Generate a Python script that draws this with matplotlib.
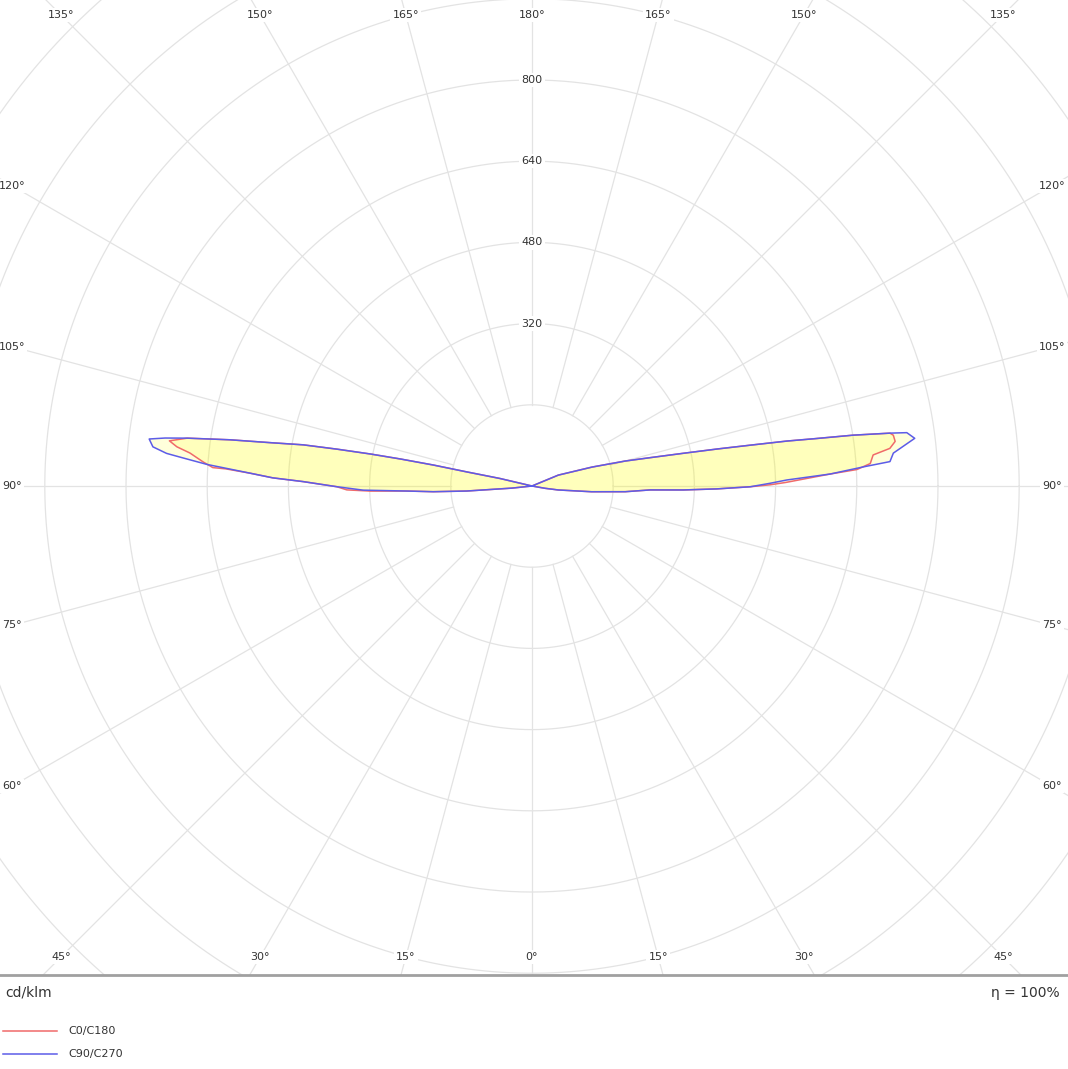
import numpy as np
import matplotlib
matplotlib.use('Agg')
import matplotlib.pyplot as plt
from matplotlib.lines import Line2D

# %%
# Luminous intensity (cd/klm), gamma in degrees (0 = down)
upper_right_g = [99.0, 99.5, 100.0, 100.6, 101.3, 102.2, 103.5, 105.0, 107.5, 112.5, 120, 180]
upper_right_i = [640, 565, 510, 437, 372, 305, 239, 190, 124, 56, 0, 0]

c0_g = [0, 75, 80, 81.4, 84.5, 86.5, 88.1, 88.5, 89.1, 89.8, 90.3, 90.8, 92.3, 92.9,
        93.8, 95.2, 96.0, 97.0, 98.0, 98.4] + upper_right_g
c0_i = [0, 0, 26, 52, 118, 184, 233, 298, 364, 430, 470, 500, 588, 641,
        668, 675, 709, 721, 719, 713] + upper_right_i

c90_g = [0, 75, 80, 81.4, 84.5, 86.5, 88.1, 88.5, 89.1, 89.8, 90.65, 91.35, 92.3, 93.3,
         93.9, 95.2, 97.1, 98.1, 98.4] + upper_right_g
c90_i = [0, 0, 26, 52, 118, 184, 233, 298, 364, 430, 469, 502, 588, 654,
         707, 715, 760, 746, 713] + upper_right_i

upper_left_g = [98.7, 99.4, 100.2, 100.7, 101.2, 101.6, 102.0, 102.2, 103.2, 110, 180]
upper_left_i = [602, 523, 458, 391, 325, 265, 199, 131, 65, 0, 0]

c180_g = [0, 75, 84, 85.6, 86.7, 87.7, 88.2, 88.8, 89.8, 91.1, 91.8, 92.6, 93.2, 93.3,
          94.2, 95.5, 96.3, 97.1, 97.9] + upper_left_g
c180_i = [0, 0, 40, 129, 195, 247, 319, 365, 385, 451, 511, 556, 604, 630,
          650, 677, 704, 720, 686] + upper_left_i

c270_g = [0, 75, 84, 85.6, 86.7, 87.7, 88.6, 89.8, 91.1, 91.8, 92.6, 93.3, 93.8, 94.6,
          95.1, 95.9, 97.0, 97.45, 97.9] + upper_left_g
c270_i = [0, 0, 40, 129, 195, 247, 333, 385, 451, 511, 556, 603, 642, 690,
          723, 751, 760, 729, 686] + upper_left_i

ring_labels = [320, 480, 640, 800]
rings = [160 * k for k in range(1, 10)]
angle_ticks = list(range(0, 181, 15))

# %%
def to_xy(g, i, side):
    g = np.radians(np.array(g, dtype=float))
    i = np.array(i, dtype=float)
    return side * i * np.sin(g), -i * np.cos(g)

fig = plt.figure(figsize=(10.68, 10.69), dpi=100)
ax = fig.add_axes([0, 1 - 975 / 1069, 1, 975 / 1069])
ax.set_xlim(-1048.3, 1056.2)
ax.set_ylim(-963.5, 957.6)
ax.set_xticks([])
ax.set_yticks([])
for s in ['top', 'left', 'right']:
    ax.spines[s].set_visible(False)
ax.spines['bottom'].set_color('#a0a0a0')
ax.spines['bottom'].set_linewidth(2)

grid_c = '#e3e3e3'
t = np.linspace(0, 2 * np.pi, 721)
for r in rings:
    ax.plot(r * np.cos(t), r * np.sin(t), color=grid_c, lw=0.9, zorder=1)
for a in range(0, 360, 15):
    ar = np.radians(a)
    ax.plot([160 * np.sin(ar), 2500 * np.sin(ar)], [-160 * np.cos(ar), -2500 * np.cos(ar)],
            color=grid_c, lw=0.9, zorder=1)

# curves: red = C0 (right) / C180 (left), blue = C90 (right) / C270 (left)
rx1, ry1 = to_xy(c0_g, c0_i, 1)
rx2, ry2 = to_xy(c180_g, c180_i, -1)
bx1, by1 = to_xy(c90_g, c90_i, 1)
bx2, by2 = to_xy(c270_g, c270_i, -1)
for xs, ys in [(rx1, ry1), (rx2, ry2), (bx1, by1), (bx2, by2)]:
    ax.fill(xs, ys, color='#ffff00', alpha=0.14, lw=0, zorder=2)
red = '#f06a6a'
blue = '#5c5ce8'
ax.plot(rx1, ry1, color=red, lw=1.1, zorder=3)
ax.plot(rx2, ry2, color=red, lw=1.1, zorder=3)
ax.plot(bx1, by1, color=blue, lw=1.1, zorder=4)
ax.plot(bx2, by2, color=blue, lw=1.1, zorder=4)

# ring labels
for r in ring_labels:
    ax.text(0, r, str(r), ha='center', va='center', fontsize=8, color='#333333',
            bbox=dict(facecolor='white', edgecolor='none', pad=1.5), zorder=5)

# angle labels along the frame
W, H = 1024.6, 928.0
for g in angle_ticks:
    gr = np.radians(g)
    sides = [1] if g in (0, 180) else [1, -1]
    for side in sides:
        sx, sy = side * np.sin(gr), -np.cos(gr)
        cand = []
        if abs(sx) > 1e-9:
            cand.append(W / abs(sx))
        if abs(sy) > 1e-9:
            cand.append(H / abs(sy))
        d = min(cand)
        ax.text(d * sx, d * sy, f'{g}°', ha='center', va='center', fontsize=8,
                color='#333333', bbox=dict(facecolor='white', edgecolor='none', pad=1.5),
                zorder=5, clip_on=False)

# %%
fig.text(5 / 1068, 1 - 993 / 1069, 'cd/klm', ha='left', va='center', fontsize=10, color='#333333')
fig.text(1060 / 1068, 1 - 993 / 1069, 'η = 100%', ha='right', va='center', fontsize=10, color='#333333')
fig.add_artist(Line2D([3 / 1068, 57 / 1068], [1 - 1031 / 1069] * 2, color=red, lw=1.1))
fig.add_artist(Line2D([3 / 1068, 57 / 1068], [1 - 1054 / 1069] * 2, color=blue, lw=1.1))
fig.text(68 / 1068, 1 - 1031 / 1069, 'C0/C180', ha='left', va='center', fontsize=8, color='#333333')
fig.text(68 / 1068, 1 - 1054 / 1069, 'C90/C270', ha='left', va='center', fontsize=8, color='#333333')

fig.savefig('out.png', dpi=100)
